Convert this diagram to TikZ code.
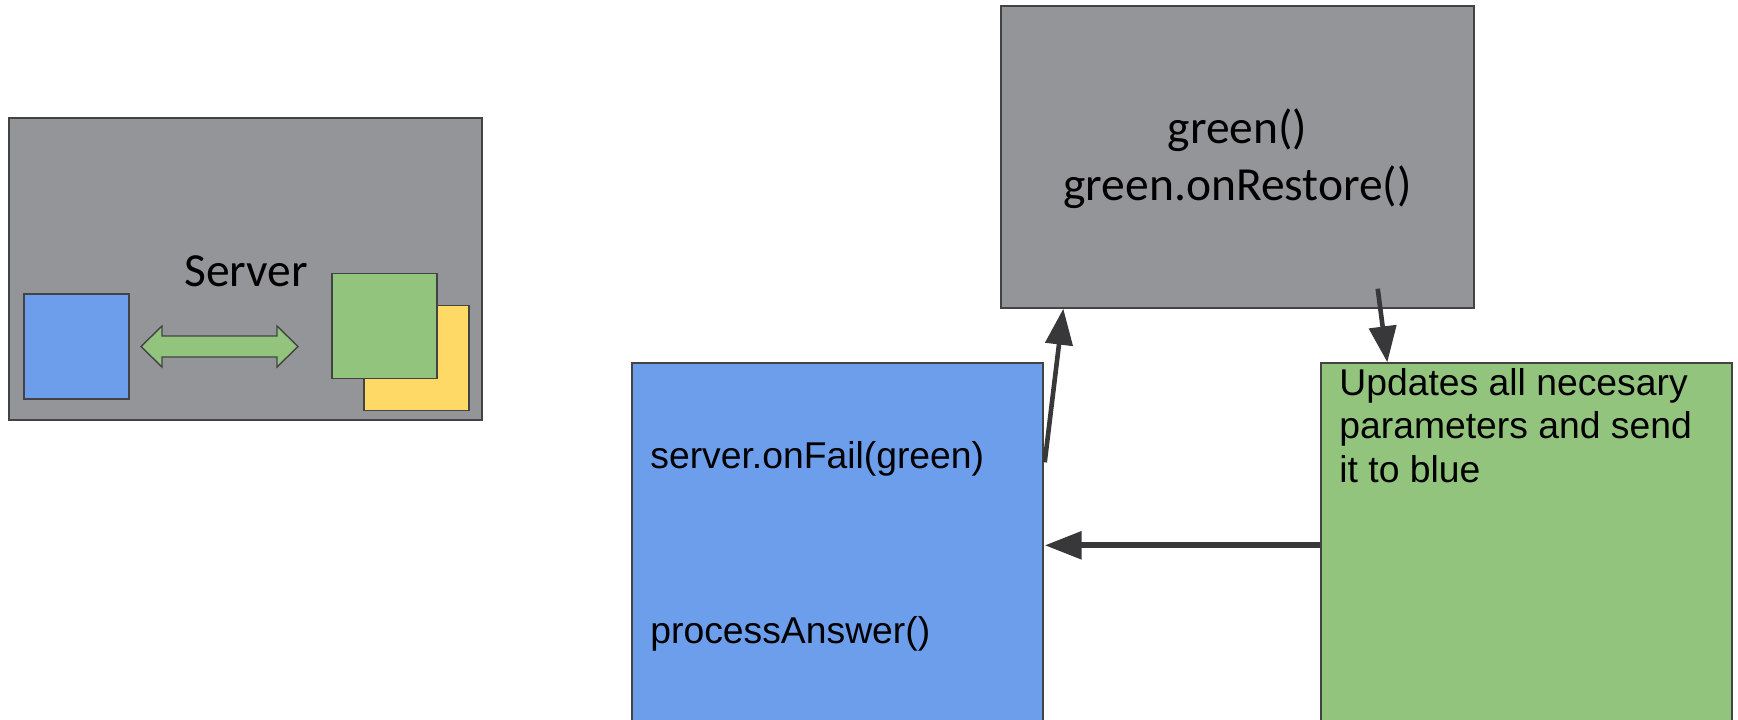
\documentclass[tikz,border=0pt]{standalone}
\usepackage{fontspec}
\setmainfont{Carlito}
\newfontfamily\arialfont{Liberation Sans}
\usetikzlibrary{arrows.meta,calc}

\definecolor{boxgray}{RGB}{148,149,153}
\definecolor{boxblue}{RGB}{109,158,235}
\definecolor{boxgreen}{RGB}{147,196,125}
\definecolor{boxyellow}{RGB}{255,217,102}
\definecolor{edge}{RGB}{67,67,67}
\definecolor{arrowdark}{RGB}{56,56,58}

\tikzset{
  panel/.style={draw=edge, line width=0.7pt, rectangle, inner sep=0pt},
  calibri/.style={inner sep=0pt, font=\fontsize{23.75}{28.5}\selectfont},
  arial/.style={inner sep=0pt, font=\arialfont\fontsize{18.65}{21.75}\selectfont},
  conn/.style={draw=arrowdark, line width=2.3pt,
    -{Triangle[length=18pt,width=13.5pt]}},
  connthick/.style={draw=arrowdark, line width=3pt,
    -{Triangle[length=18.5pt,width=13.5pt]}}
}

\begin{document}
\begin{tikzpicture}[x=0.5pt, y=-0.5pt]
\useasboundingbox (0,0) rectangle (1738,719);
\fill[white] (0,0) rectangle (1738,719);

% server icon
\node[panel, fill=boxgray, minimum width=236.5pt, minimum height=151pt] (server) at (245.5,269) {};
\node[panel, fill=boxblue, minimum width=52.5pt, minimum height=52.5pt] (smblue) at (76.5,346.5) {};
\node[panel, fill=boxyellow, minimum width=52.5pt, minimum height=52.5pt] (smyellow) at (416.5,358) {};
\node[panel, fill=boxgreen, minimum width=52.5pt, minimum height=52.5pt] (smgreen) at (384.5,326) {};
\draw[draw=edge, line width=0.7pt, fill=boxgreen]
  (141,346.5) -- (162,326) -- (162,336) -- (277,336) -- (277,326) -- (298,346.5)
  -- (277,367) -- (277,357) -- (162,357) -- (162,367) -- cycle;
\node[calibri, anchor=base west] (servertext) at (184,286) {Server};

% restore box
\node[panel, fill=boxgray, minimum width=236.5pt, minimum height=151pt] (restore) at (1237.5,157) {};
\node[calibri, anchor=base] (restoretext) at (1237.5,143)
  {\begin{tabular}[t]{@{}c@{}}green()\\green.onRestore()\end{tabular}};

% blue client box
\node[panel, fill=boxblue, minimum width=205.5pt, minimum height=183.5pt] (blue) at (837.5,546.5) {};
\node[arial, anchor=base west] (failtext) at (650,468) {server.onFail(green)};
\node[arial, anchor=base west] (answertext) at (650,643) {processAnswer()};

% green update box
\node[panel, fill=boxgreen, minimum width=205.5pt, minimum height=183.5pt] (green) at (1526.5,546.5) {};
\node[arial, anchor=base west] (updatetext) at (1339,395)
  {\begin{tabular}[t]{@{}l@{}}Updates all necesary\\parameters and send\\it to blue\end{tabular}};

% connectors
\coordinate (failout) at ($(blue.north east)+(1,100)$);
\coordinate (restorein) at ($(restore.south west)+(63,0)$);
\coordinate (restoreout) at ($(restore.south east)+(-97,-20)$);
\coordinate (greenin) at ($(green.north west)+(67,0)$);
\coordinate (greenout) at ($(green.north west)+(0,183)$);
\coordinate (bluein) at ($(blue.north east)+(1,183)$);

\draw[conn] (failout) -- (restorein);
\draw[conn] (restoreout) -- (greenin);
\draw[connthick] (greenout) -- (bluein);
\end{tikzpicture}
\end{document}
